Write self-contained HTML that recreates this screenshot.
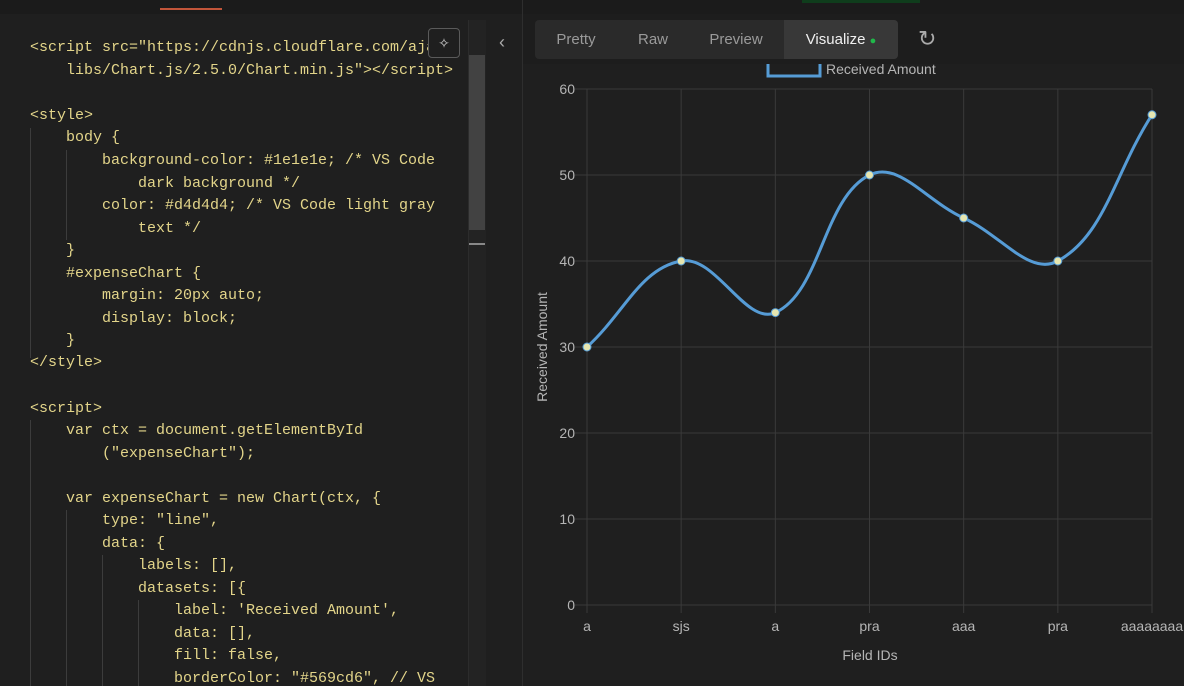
<!DOCTYPE html>
<html><head><meta charset="utf-8"><style>
html,body{margin:0;padding:0;width:1184px;height:686px;overflow:hidden;background:#1f1f1f;font-family:"Liberation Sans",sans-serif}
.code{position:absolute;left:0;top:0;width:468px;height:686px;overflow:hidden}
.ln{position:absolute;font-family:"Liberation Mono",monospace;font-size:15px;color:#e3d58a;white-space:pre;line-height:20px}
.tab{position:absolute;top:20px;height:39px;line-height:39px;font-size:15px;color:#9a9a9a;text-align:center}
</style></head><body>
<div style="position:absolute;left:0;top:0;width:1184px;height:14px;background:#1b1b1b"></div>
<div style="position:absolute;left:160px;top:8px;width:62px;height:2px;background:#c2553a"></div>
<div class="code">
<div class="ln" style="left:30px;top:38px">&lt;script src="https://cdnjs.cloudflare.com/aja</div>
<div class="ln" style="left:66px;top:61px">libs/Chart.js/2.5.0/Chart.min.js"&gt;&lt;/script&gt;</div>
<div class="ln" style="left:30px;top:106px">&lt;style&gt;</div>
<div class="ln" style="left:66px;top:128px">body {</div>
<div class="ln" style="left:102px;top:151px">background-color: #1e1e1e; /* VS Code</div>
<div class="ln" style="left:138px;top:174px">dark background */</div>
<div class="ln" style="left:102px;top:196px">color: #d4d4d4; /* VS Code light gray</div>
<div class="ln" style="left:138px;top:219px">text */</div>
<div class="ln" style="left:66px;top:241px">}</div>
<div class="ln" style="left:66px;top:264px">#expenseChart {</div>
<div class="ln" style="left:102px;top:286px">margin: 20px auto;</div>
<div class="ln" style="left:102px;top:309px">display: block;</div>
<div class="ln" style="left:66px;top:331px">}</div>
<div class="ln" style="left:30px;top:353px">&lt;/style&gt;</div>
<div class="ln" style="left:30px;top:399px">&lt;script&gt;</div>
<div class="ln" style="left:66px;top:421px">var ctx = document.getElementById</div>
<div class="ln" style="left:102px;top:444px">("expenseChart");</div>
<div class="ln" style="left:66px;top:489px">var expenseChart = new Chart(ctx, {</div>
<div class="ln" style="left:102px;top:511px">type: "line",</div>
<div class="ln" style="left:102px;top:534px">data: {</div>
<div class="ln" style="left:138px;top:556px">labels: [],</div>
<div class="ln" style="left:138px;top:579px">datasets: [{</div>
<div class="ln" style="left:174px;top:601px">label: 'Received Amount',</div>
<div class="ln" style="left:174px;top:624px">data: [],</div>
<div class="ln" style="left:174px;top:646px">fill: false,</div>
<div class="ln" style="left:174px;top:669px">borderColor: "#569cd6", // VS</div>
<div style="position:absolute;left:30px;top:128px;width:1px;height:230px;background:#3c3c3c"></div>
<div style="position:absolute;left:66px;top:150px;width:1px;height:90px;background:#3c3c3c"></div>
<div style="position:absolute;left:30px;top:420px;width:1px;height:266px;background:#3c3c3c"></div>
<div style="position:absolute;left:66px;top:510px;width:1px;height:176px;background:#3c3c3c"></div>
<div style="position:absolute;left:102px;top:555px;width:1px;height:131px;background:#3c3c3c"></div>
<div style="position:absolute;left:138px;top:600px;width:1px;height:86px;background:#3c3c3c"></div>
</div>
<div style="position:absolute;left:428px;top:28px;width:30px;height:28px;border:1px solid #5a5a5a;border-radius:4px;background:#1f1f1f;color:#ccc;font-size:14px;text-align:center;line-height:28px">✧</div>
<div style="position:absolute;left:468px;top:20px;width:17px;height:666px;background:#232323;border-left:1px solid #2c2c2c"></div>
<div style="position:absolute;left:469px;top:55px;width:16px;height:175px;background:#424242"></div>
<div style="position:absolute;left:469px;top:243px;width:16px;height:2px;background:#888"></div>
<div style="position:absolute;left:499px;top:32px;color:#aaa;font-size:18px">‹</div>
<div style="position:absolute;left:522px;top:0;width:1px;height:686px;background:#2e2e2e"></div>
<div style="position:absolute;left:802px;top:0;width:118px;height:3px;background:#0f3d1c"></div>
<svg id="chart" width="1184" height="686" style="position:absolute;left:0;top:0">
<rect x="523" y="64" width="661" height="622" fill="#1f1f1f"/>
</svg>
<div style="position:absolute;left:523px;top:14px;width:661px;height:50px;background:#1d1d1d"></div>
<div style="position:absolute;left:535px;top:20px;width:363px;height:39px;background:#2a2a2a;border-radius:4px"></div>
<div class="tab" style="left:540px;width:72px">Pretty</div>
<div class="tab" style="left:625px;width:56px">Raw</div>
<div class="tab" style="left:695px;width:82px">Preview</div>
<div class="tab" style="left:784px;width:114px;background:#383838;color:#f0f0f0;border-radius:0 4px 4px 0">Visualize <span style="color:#20b84a;font-size:11px">●</span></div>
<div style="position:absolute;left:918px;top:26px;color:#aaa;font-size:22px">↻</div>
<script>
const categories = ["a","sjs","a","pra","aaa","pra","aaaaaaaa"];
const values = [30, 40, 34, 50, 45, 40, 57];
const yTicks = [0, 10, 20, 30, 40, 50, 60];
const NS = "http://www.w3.org/2000/svg";
const svg = document.getElementById("chart");
const X0 = 587, X1 = 1152, Y0 = 605, Y1 = 89, YMAX = 60;
const xs = i => X0 + (X1 - X0) * i / (categories.length - 1);
const ys = v => Y0 - (Y0 - Y1) * v / YMAX;
function mk(tag, a, parent) { const e = document.createElementNS(NS, tag); for (const k in a) e.setAttribute(k, a[k]); (parent || svg).appendChild(e); return e; }
yTicks.forEach(t => {
  const y = ys(t);
  const g = mk("line", {x1: 575, x2: X1, y1: y, y2: y, stroke: "#3a3a3a", "stroke-width": 1});
  
  
  const tx = mk("text", {x: 575, y: y + 5, "text-anchor": "end", fill: "#b5b5b5", "font-size": 14, "font-family": "Liberation Sans, sans-serif"});
  tx.textContent = t;
  
  
});
categories.forEach((c, i) => {
  const x = xs(i);
  const g = mk("line", {x1: x, x2: x, y1: Y1, y2: Y0 + 8, stroke: "#3a3a3a", "stroke-width": 1});
  
  
  const tx = mk("text", {x: x, y: 631, "text-anchor": "middle", fill: "#b5b5b5", "font-size": 14, "font-family": "Liberation Sans, sans-serif"});
  tx.textContent = c;
  
  
});
const pts = values.map((v, i) => [xs(i), ys(v)]);
const T = 0.4;
const cps = pts.map((p, i) => {
  const pr = pts[i - 1] || p, nx = pts[i + 1] || p;
  const d01 = Math.hypot(p[0] - pr[0], p[1] - pr[1]), d12 = Math.hypot(nx[0] - p[0], nx[1] - p[1]);
  let s01 = d01 / (d01 + d12 || 1), s12 = d12 / (d01 + d12 || 1);
  const fa = T * s01, fb = T * s12;
  return {p: [p[0] - fa * (nx[0] - pr[0]), p[1] - fa * (nx[1] - pr[1])], n: [p[0] + fb * (nx[0] - pr[0]), p[1] + fb * (nx[1] - pr[1])]};
});
let d = "M" + pts[0][0] + "," + pts[0][1];
for (let i = 1; i < pts.length; i++) {
  d += " C" + cps[i - 1].n[0] + "," + cps[i - 1].n[1] + " " + cps[i].p[0] + "," + cps[i].p[1] + " " + pts[i][0] + "," + pts[i][1];
}
const line = mk("path", {d: d, fill: "none", stroke: "#569cd6", "stroke-width": 3});


pts.forEach(p => {
  const c = mk("circle", {cx: p[0], cy: p[1], r: 4, fill: "#e6e6b0", stroke: "#569cd6", "stroke-width": 1});
  
  
});
const lb = mk("rect", {x: 768, y: 58, width: 52, height: 18, fill: "none", stroke: "#569cd6", "stroke-width": 3});


const lt = mk("text", {x: 826, y: 74, fill: "#b5b5b5", "font-size": 14, "font-family": "Liberation Sans, sans-serif"});
lt.textContent = "Received Amount";


const yt = mk("text", {x: 0, y: 0, transform: "translate(547,347) rotate(-90)", "text-anchor": "middle", fill: "#b5b5b5", "font-size": 14, "font-family": "Liberation Sans, sans-serif"});
yt.textContent = "Received Amount";


const xt = mk("text", {x: 870, y: 660, "text-anchor": "middle", fill: "#b5b5b5", "font-size": 14, "font-family": "Liberation Sans, sans-serif"});
xt.textContent = "Field IDs";


</script>
</body></html>
